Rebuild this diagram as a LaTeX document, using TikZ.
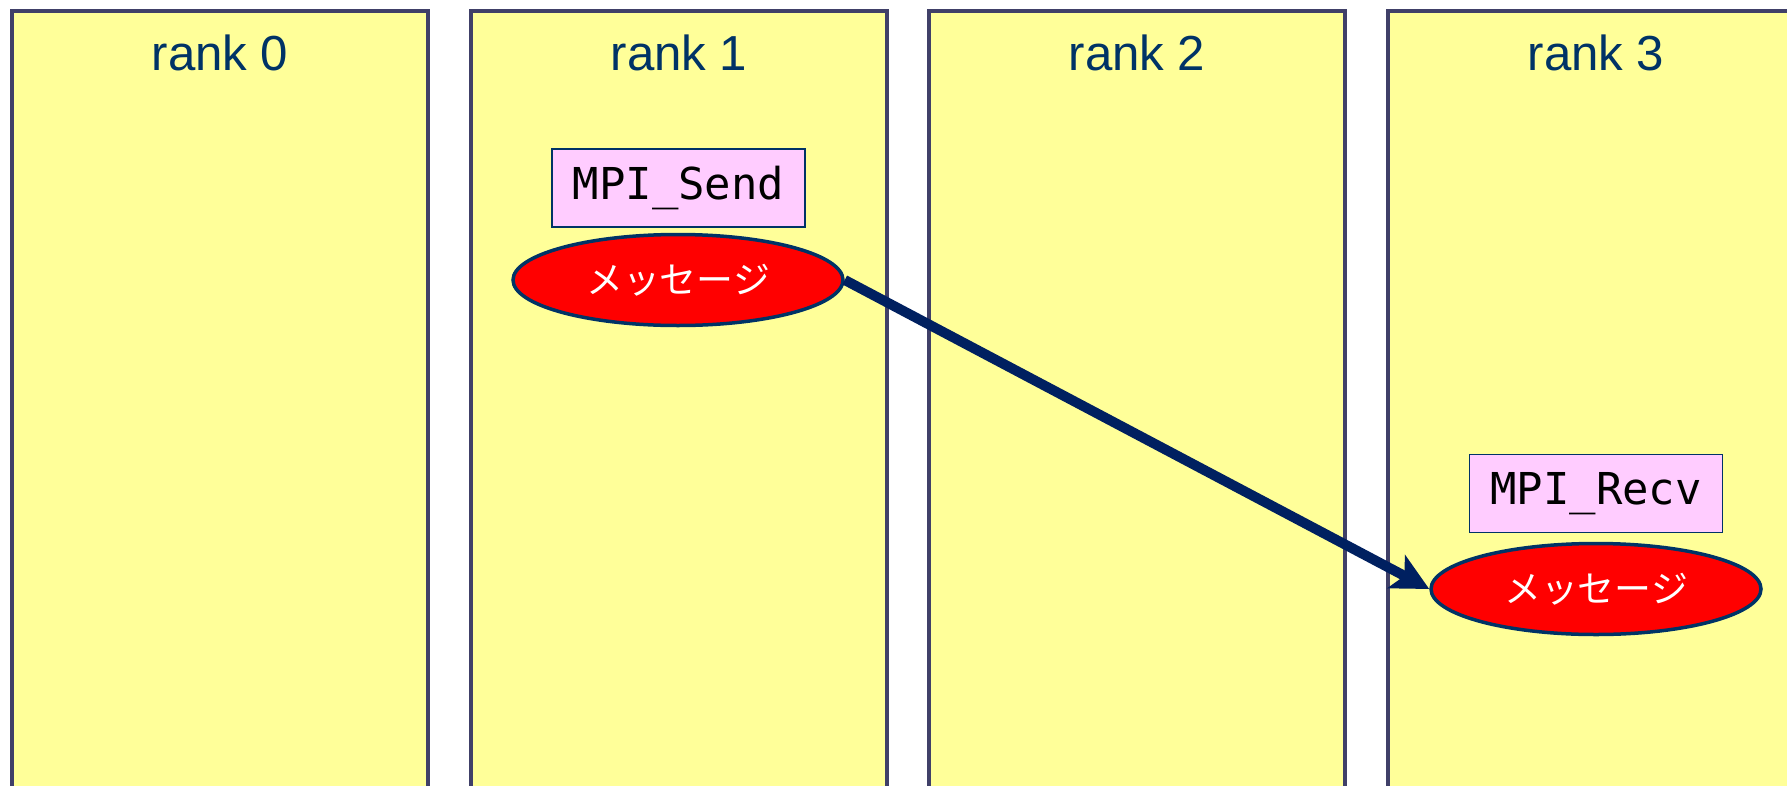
\documentclass[tikz,border=0pt]{standalone}
\usepackage{fontspec}
\setmainfont{Liberation Sans}
\setmonofont{DejaVu Sans Mono}
\newfontfamily\jpfont{Noto Sans CJK JP}
\usetikzlibrary{arrows.meta,shapes.geometric}
\definecolor{rankfill}{HTML}{FFFF99}
\definecolor{rankline}{HTML}{404068}
\definecolor{ranktext}{HTML}{003366}
\definecolor{callfill}{HTML}{FFCCFF}
\definecolor{msgline}{HTML}{003366}
\definecolor{arrowcol}{HTML}{002060}
\tikzset{
   rank/.style = {rectangle, draw=rankline, fill=rankfill, line width=0.4mm,
                  minimum width=41.6mm, minimum height=80mm, inner sep=0pt},
   ranklabel/.style = {anchor=base, text=ranktext, inner sep=0pt,
                  font=\fontsize{14pt}{16pt}\selectfont},
   call/.style = {rectangle, draw=msgline, fill=callfill, line width=0.15mm,
                  minimum width=25.3mm, minimum height=7.8mm, inner sep=0pt,
                  font=\ttfamily\fontsize{12.5pt}{14pt}\selectfont},
   msg/.style = {ellipse, draw=msgline, fill=red, line width=0.35mm, text=white,
                  minimum width=33mm, minimum height=9.1mm, inner sep=0pt,
                  font=\jpfont\fontsize{10.5pt}{12pt}\selectfont},
   arrow/.style = {-{Stealth[length=3.7mm,width=3.7mm,inset=0.9mm]}, draw=arrowcol, line width=1.0mm},
}
\begin{document}
\begin{tikzpicture}

      \useasboundingbox (0mm,0mm) rectangle (178.7mm,-78.5mm);
      \clip (0mm,0mm) rectangle (178.7mm,-78.5mm);

      \node[rank] (rank0) at (22.0mm,-41.1mm) {};
      \node[rank] (rank1) at (67.9mm,-41.1mm) {};
      \node[rank] (rank2) at (113.7mm,-41.1mm) {};
      \node[rank] (rank3) at (159.6mm,-41.1mm) {};

      \node[ranklabel] (lbl0) at (22.0mm,-7.0mm) {rank 0};
      \node[ranklabel] (lbl1) at (67.9mm,-7.0mm) {rank 1};
      \node[ranklabel] (lbl2) at (113.7mm,-7.0mm) {rank 2};
      \node[ranklabel] (lbl3) at (159.6mm,-7.0mm) {rank 3};

      \node[call] (send) at (67.85mm,-18.8mm) {MPI\_Send};
      \node[msg] (sendmsg) at (67.8mm,-28.0mm) {メッセージ};

      \node[call] (recv) at (159.6mm,-49.35mm) {MPI\_Recv};
      \node[msg] (recvmsg) at (159.6mm,-58.9mm) {メッセージ};

      \draw[arrow] (sendmsg.east) -- (recvmsg.west);

\end{tikzpicture}
\end{document}
